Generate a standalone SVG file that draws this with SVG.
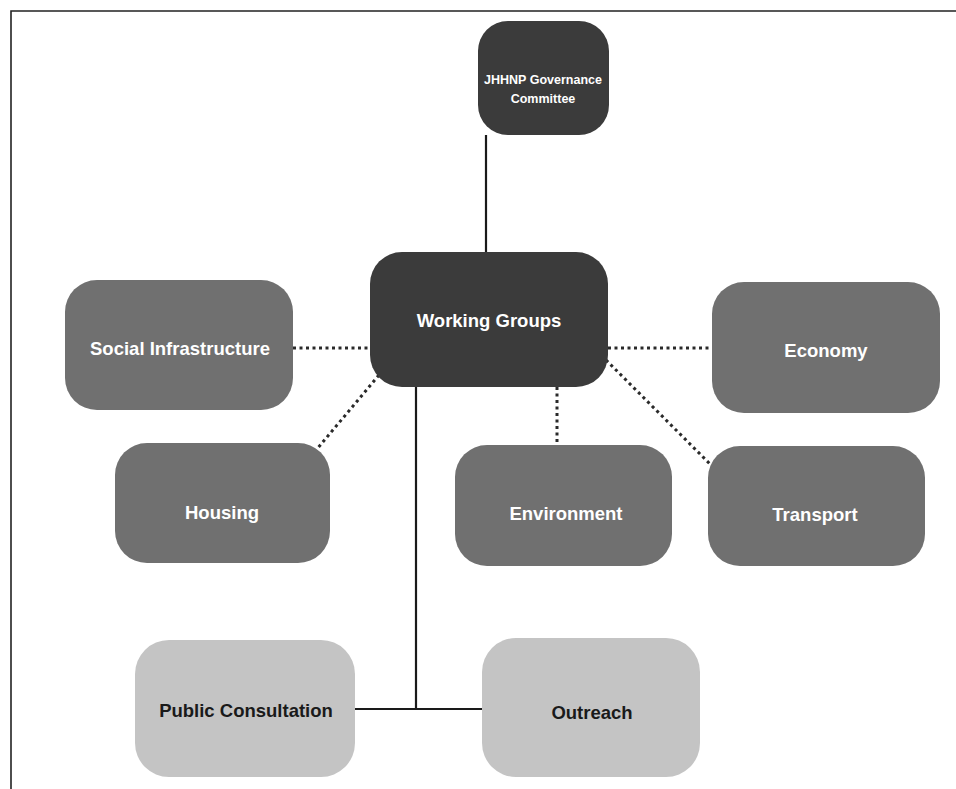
<svg xmlns="http://www.w3.org/2000/svg" width="956" height="789" viewBox="0 0 956 789">
<style>
.dark{fill:#3b3b3b}
.mid{fill:#707070}
.light{fill:#c4c4c4}
.t{font-family:"Liberation Sans",Arial,sans-serif;font-weight:bold;font-size:18.5px;text-anchor:middle;dominant-baseline:central}
.s{font-size:12.5px}
.w{fill:#ffffff}
.b{fill:#1a1a1a}
.solid{stroke:#1a1a1a;stroke-width:2.2;fill:none}
.dot{stroke:#2a2a2a;stroke-width:3;stroke-dasharray:3 3.5;fill:none}
</style>
<rect width="956" height="789" fill="#ffffff"/>
<path d="M11,789 V11 H956" stroke="#222" stroke-width="1.6" fill="none"/>
<g id="connectors">
<line class="solid" x1="486" y1="135" x2="486" y2="252"/>
<line class="solid" x1="416" y1="387" x2="416" y2="709"/>
<line class="solid" x1="354" y1="709" x2="483" y2="709"/>
<line class="dot" x1="293" y1="348" x2="370" y2="348"/>
<line class="dot" x1="608" y1="348" x2="712" y2="348"/>
<line class="dot" x1="379" y1="375" x2="312" y2="455"/>
<line class="dot" x1="557" y1="387" x2="557" y2="445"/>
<line class="dot" x1="606" y1="360" x2="713" y2="467"/>
</g>
<g id="governance">
<rect class="dark" x="478" y="21" width="131" height="114" rx="30"/>
<text class="t s w" x="543" y="80">JHHNP Governance</text>
<text class="t s w" x="543" y="99">Committee</text>
</g>
<g id="working-groups">
<rect class="dark" x="370" y="252" width="238" height="135" rx="32"/>
<text class="t w" x="489" y="320">Working Groups</text>
</g>
<g id="social-infrastructure">
<rect class="mid" x="65" y="280" width="228" height="130" rx="32"/>
<text class="t w" x="180" y="348">Social Infrastructure</text>
</g>
<g id="economy">
<rect class="mid" x="712" y="282" width="228" height="131" rx="32"/>
<text class="t w" x="826" y="350">Economy</text>
</g>
<g id="housing">
<rect class="mid" x="115" y="443" width="215" height="120" rx="32"/>
<text class="t w" x="222" y="512">Housing</text>
</g>
<g id="environment">
<rect class="mid" x="455" y="445" width="217" height="121" rx="32"/>
<text class="t w" x="566" y="513">Environment</text>
</g>
<g id="transport">
<rect class="mid" x="708" y="446" width="217" height="120" rx="32"/>
<text class="t w" x="815" y="514">Transport</text>
</g>
<g id="public-consultation">
<rect class="light" x="135" y="640" width="220" height="137" rx="34"/>
<text class="t b" x="246" y="710">Public Consultation</text>
</g>
<g id="outreach">
<rect class="light" x="482" y="638" width="218" height="139" rx="34"/>
<text class="t b" x="592" y="712">Outreach</text>
</g>
</svg>
